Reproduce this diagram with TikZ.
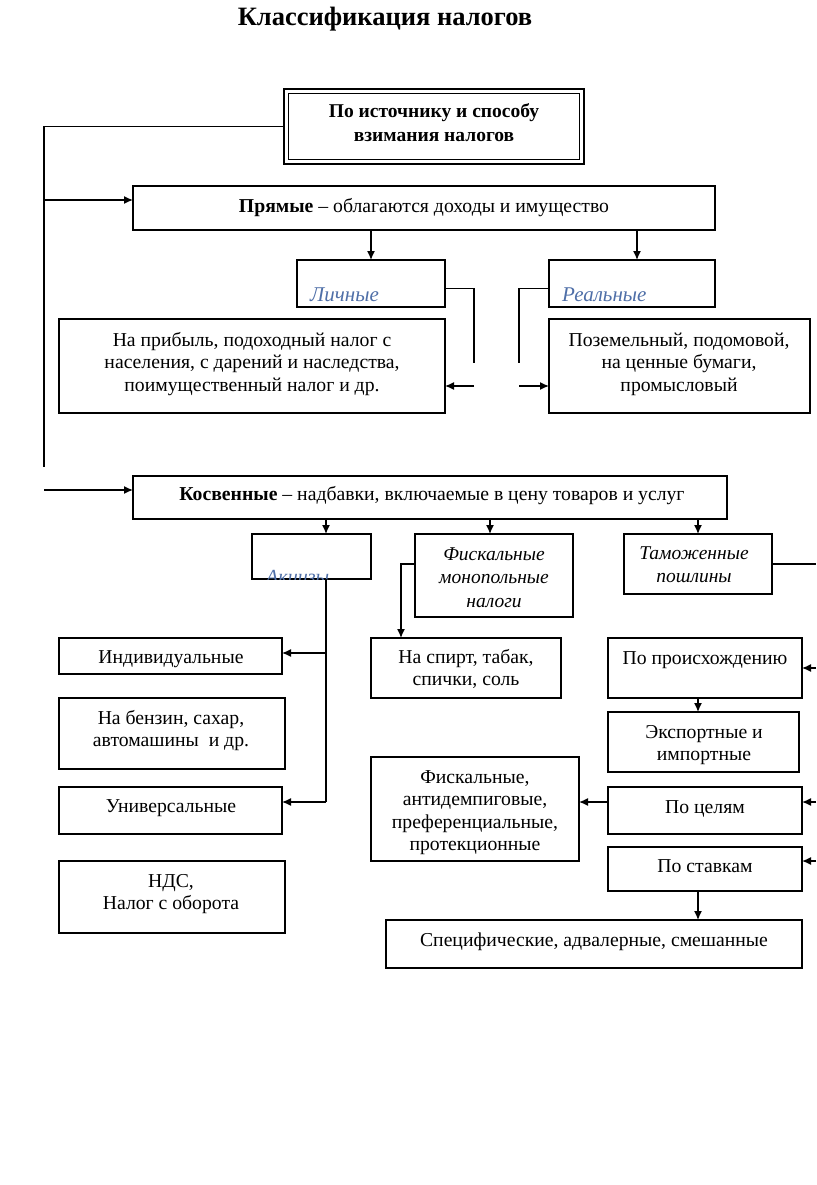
\documentclass[tikz,border=0pt]{standalone}
\usepackage{fontspec}
\setmainfont{Liberation Serif}
\usetikzlibrary{arrows.meta}
\definecolor{lblue}{HTML}{4F6FA8}
\tikzset{
 bx/.style={draw, line width=1.4pt, inner sep=0pt, outer sep=0pt},
 arr/.style={line width=1.4pt, -{Latex[length=9pt,width=8pt]}},
 ln/.style={line width=1.4pt},
 txt/.style={anchor=base, inner sep=0pt, font=\fontsize{19.7}{22.5}\selectfont},
 itxt/.style={txt, font=\itshape\fontsize{19.5}{23.5}\selectfont},
 btxt/.style={txt, font=\itshape\fontsize{21}{24}\selectfont\color{lblue}, anchor=base west},
}
\newcommand\bxnode[5]{\node[bx, minimum width={#4pt-#2pt}, minimum height={#5pt-#3pt}] (#1) at ({(#2+#4)/2},{(#3+#5)/2}) {};}
\newcommand\ml[1]{\begin{tabular}[t]{@{}c@{}}#1\end{tabular}}
\begin{document}
\begin{tikzpicture}[x=1pt,y=-1pt]
\useasboundingbox (0,0) rectangle (816,1185);
\fill[white] (0,0) rectangle (816,1185);

% title
\node[txt, font=\bfseries\fontsize{26.5}{30}\selectfont] (title) at (385,26) {Классификация налогов};

% top box (double)
\node[bx, line width=2pt, minimum width=300pt, minimum height=75pt] (top) at (434,126.5) {};
\draw[line width=1.1pt] ([shift={(4.5pt,-4.5pt)}]top.north west) rectangle ([shift={(-4.5pt,4.5pt)}]top.south east);
\node[txt, font=\bfseries\fontsize{19.5}{23.5}\selectfont] (topt) at (434,118) {\ml{По источнику и способу\\взимания налогов}};

% boxes
\bxnode{pr}{133}{186}{715}{230}
\bxnode{li}{297}{260}{445}{307}
\bxnode{re}{549}{260}{715}{307}
\bxnode{pri}{59}{319}{445}{413}
\bxnode{poz}{549}{319}{810}{413}
\bxnode{kos}{133}{476}{727}{519}
\bxnode{akc}{252}{534}{371}{579}
\bxnode{fmn}{415}{534}{573}{617}
\bxnode{tam}{624}{534}{772}{594}
\bxnode{ind}{59}{638}{282}{674}
\bxnode{ben}{59}{698}{285}{769}
\bxnode{uni}{59}{787}{282}{834}
\bxnode{nds}{59}{861}{285}{933}
\bxnode{spi}{371}{638}{561}{698}
\bxnode{proi}{608}{638}{802}{698}
\bxnode{exp}{608}{712}{799}{772}
\bxnode{fis}{371}{757}{579}{861}
\bxnode{cel}{608}{787}{802}{834}
\bxnode{sta}{608}{847}{802}{891}
\bxnode{spe}{386}{920}{802}{968}

% texts
\node[txt] (prt) at (424,212) {\textbf{Прямые} – облагаются доходы и имущество};
\node[btxt] (lit) at (310,301) {Личные};
\node[btxt] (ret) at (562,301) {Реальные};
\node[txt] (prit) at (252,346) {\ml{На прибыль, подоходный налог с\\населения, с дарений и наследства,\\поимущественный налог и др.}};
\node[txt] (pozt) at (679,346) {\ml{Поземельный, подомовой,\\на ценные бумаги,\\промысловый}};
\node[txt] (kost) at (432,500) {\textbf{Косвенные} – надбавки, включаемые в цену товаров и услуг};
\begin{scope}
\clip (akc.north west) rectangle (akc.south east);
\node[btxt, font=\itshape\fontsize{20}{24}\selectfont\color{lblue}] (akct) at (266,583) {Акцизы};
\end{scope}
\node[itxt] (fmnt) at (494,560) {\ml{Фискальные\\монопольные\\налоги}};
\node[itxt] (tamt) at (694,559) {\ml{Таможенные\\пошлины}};
\node[txt] (indt) at (171,663) {Индивидуальные};
\node[txt] (bent) at (171,724) {\ml{На бензин, сахар,\\автомашины\ \ и др.}};
\node[txt] (unit) at (171,812) {Универсальные};
\node[txt] (ndst) at (171,887) {\ml{НДС,\\Налог с оборота}};
\node[txt] (spit) at (466,663) {\ml{На спирт, табак,\\спички, соль}};
\node[txt] (proit) at (705,664) {По происхождению};
\node[txt] (expt) at (704,738) {\ml{Экспортные и\\импортные}};
\node[txt] (fist) at (475,783) {\ml{Фискальные,\\антидемпиговые,\\преференциальные,\\протекционные}};
\node[txt] (celt) at (705,813) {По целям};
\node[txt] (stat) at (705,872) {По ставкам};
\node[txt] (spet) at (594,946) {Специфические, адвалерные, смешанные};

% coordinates
\coordinate (lv) at (44,467);
\coordinate (a1) at (44,200);
\coordinate (a2) at (44,490);
\coordinate (lc1) at (474,363);
\coordinate (lc2) at (474,386);
\coordinate (rc1) at (519,363);
\coordinate (rc2) at (519,386);
\coordinate (k1) at (326,0);
\coordinate (k2) at (490,0);
\coordinate (k3) at (698,0);
\coordinate (av) at (326,802);
\coordinate (ab) at (326,653);
\coordinate (fm) at (401,564);
\coordinate (te) at (816,563);
\coordinate (r1) at (816,668);
\coordinate (r2) at (816,802);
\coordinate (r3) at (816,861);
\coordinate (pc) at (608,802);
\coordinate (px) at (698,0);

% connectors
\draw[ln] (top.west) -| (lv);
\draw[arr] (a1) -- (a1 -| pr.west);
\draw[arr] (a2) -- (a2 -| kos.west);
\draw[arr] (li.north |- pr.south) -- (li.north);
\draw[arr] ([xshift=5pt]re.north |- pr.south) -- ([xshift=5pt]re.north);
\draw[ln] ([yshift=-5pt]li.east) -| (lc1);
\draw[arr] (lc2) -- (lc2 -| pri.east);
\draw[ln] ([yshift=-5pt]re.west) -| (rc1);
\draw[arr] (rc2) -- (rc2 -| poz.west);
\draw[arr] (kos.south -| k1) -- (akc.north -| k1);
\draw[arr] (kos.south -| k2) -- (fmn.north -| k2);
\draw[arr] (kos.south -| k3) -- (tam.north -| k3);
\draw[ln] (akc.south -| av) -- (av);
\draw[arr] (ab) -- (ab -| ind.east);
\draw[arr] (av) -- (av -| uni.east);
\draw[arr] (fm -| fmn.west) -- (fm) -- (fm |- spi.north);
\draw[ln] (tam.east) -- (tam.east -| te);
\draw[arr] (r1) -- (r1 -| proi.east);
\draw[arr] (r2) -- (r2 -| cel.east);
\draw[arr] (r3) -- (r3 -| sta.east);
\draw[arr] (proi.south -| px) -- (exp.north -| px);
\draw[arr] (pc -| cel.west) -- (pc -| fis.east);
\draw[arr] (sta.south -| px) -- (spe.north -| px);
\end{tikzpicture}
\end{document}
